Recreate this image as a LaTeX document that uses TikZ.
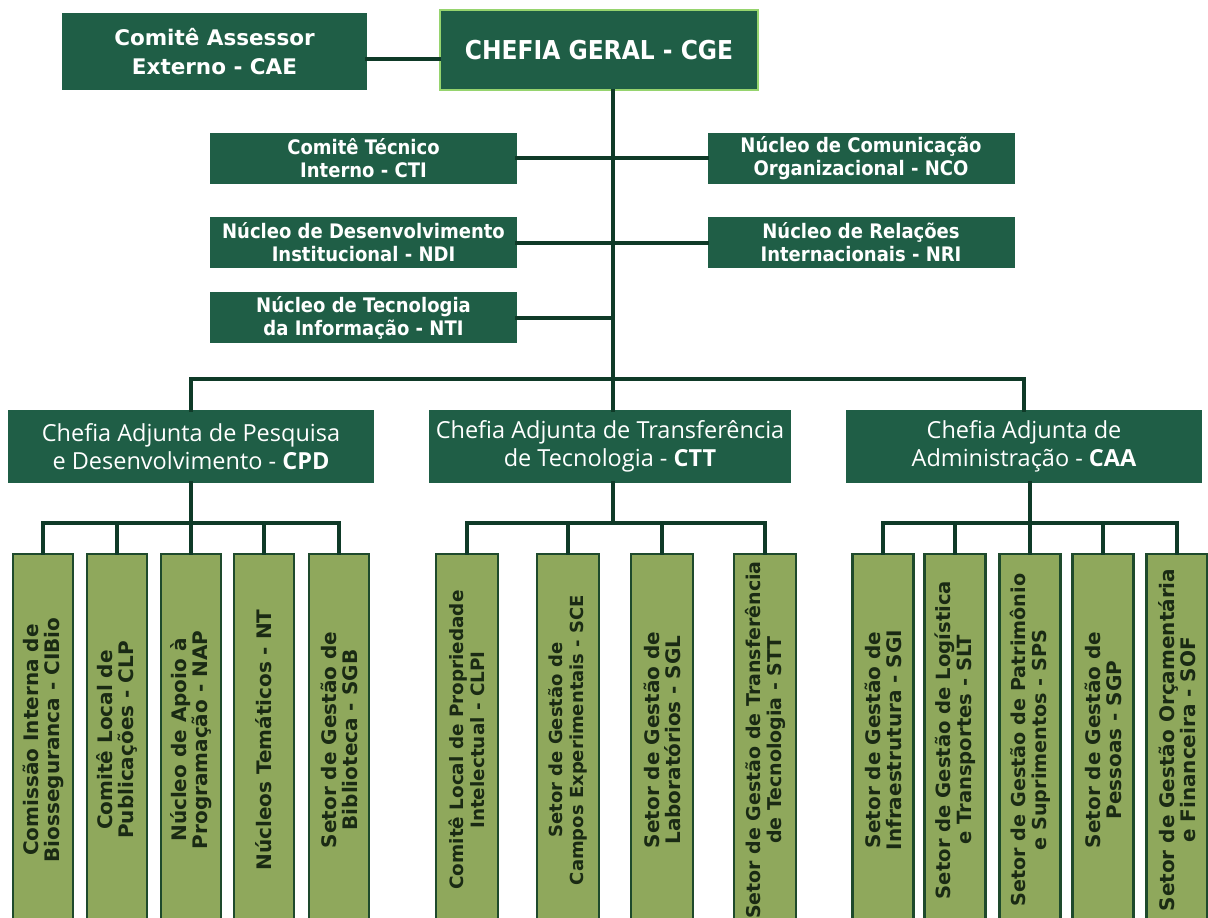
\documentclass[tikz,border=0pt]{standalone}
\usepackage{fontspec}
\setmainfont{DejaVu Sans}
\newfontfamily\topfont[FakeStretch=0.9]{DejaVu Sans}
\newfontfamily\cafont{DejaVu Sans}
\newfontfamily\midfont{Open Sans}
\newfontfamily\botfont{DejaVu Sans}
\definecolor{dg}{HTML}{1F5E46}
\definecolor{ln}{HTML}{0F3A28}
\definecolor{lg}{HTML}{96D46E}
\definecolor{ol}{HTML}{8FA85C}
\definecolor{ob}{HTML}{1E4A2C}
\definecolor{tx}{HTML}{1A2A14}
\tikzset{
  darkbox/.style={fill=dg, text=white, inner sep=0pt, align=center},
  unitbox/.style={darkbox, minimum width=307pt, minimum height=51pt,
    font=\topfont\bfseries\fontsize{20}{23}\selectfont},
  chiefbox/.style={darkbox, minimum width=#1, minimum height=73pt,
    font=\midfont\fontsize{23.5}{28}\selectfont},
  subbox/.style={fill=ol, draw=ob, line width=2.5pt, rotate=90, inner sep=0pt,
    minimum width=372pt, minimum height=#1, align=center, text=tx,
    font=\botfont\bfseries\fontsize{20}{21}\selectfont},
  subsize/.style={font=\botfont\bfseries\fontsize{#1}{21}\selectfont},
  conn/.style={draw=ln, line width=4pt, line cap=rect}
}
\begin{document}
\begin{tikzpicture}[x=1pt,y=-1pt]
\useasboundingbox (0,0) rectangle (1208,918);
\fill[white] (0,0) rectangle (1208,918);

% top level
\node[darkbox, minimum width=305pt, minimum height=77pt,
  font=\cafont\bfseries\fontsize{21.5}{29}\selectfont] (CAE) at (214.5,51.5)
  {Comitê Assessor\\Externo - CAE};
\node[darkbox, draw=lg, line width=2.5pt, minimum width=318pt, minimum height=80pt,
  font=\topfont\bfseries\fontsize{26}{30}\selectfont] (CGE) at (599,50)
  {CHEFIA GERAL - CGE};

% staff units
\node[unitbox] (CTI) at (363.5,158) {Comitê Técnico\\Interno - CTI};
\node[unitbox] (NCO) at (861,158) {Núcleo de Comunicação\\Organizacional - NCO};
\node[unitbox] (NDI) at (363.5,242.5) {Núcleo de Desenvolvimento\\Institucional - NDI};
\node[unitbox] (NRI) at (861,242.5) {Núcleo de Relações\\Internacionais - NRI};
\node[unitbox] (NTI) at (363.5,317.5) {Núcleo de Tecnologia\\da Informação - NTI};

% deputy heads
\node[chiefbox=366pt] (CPD) at (191,446.5)
  {Chefia Adjunta de Pesquisa\\e Desenvolvimento - \textbf{CPD}};
\node[chiefbox=362pt] (CTT) at (610,446.5)
  {Chefia Adjunta de Transferência\\de Tecnologia - \textbf{CTT}};
\node[chiefbox=356pt] (CAA) at (1024,446.5)
  {Chefia Adjunta de\\Administração - \textbf{CAA}};

% CPD children
\node[subbox=60pt] (c1) at (43,740) {Comissão Interna de\\Biosseguranca - CIBio};
\node[subbox=60pt] (c2) at (117,740) {Comitê Local de\\Publicações - CLP};
\node[subbox=60pt] (c3) at (191,740) {Núcleo de Apoio à\\Programação - NAP};
\node[subbox=60pt] (c4) at (264,740) {Núcleos Temáticos - NT};
\node[subbox=60pt] (c5) at (339,740) {Setor de Gestão de\\Biblioteca - SGB};
% CTT children
\node[subbox=62pt, subsize=18.4] (t1) at (467,740) {Comitê Local de Propriedade\\Intelectual - CLPI};
\node[subbox=62pt, subsize=18] (t2) at (568,740) {Setor de Gestão de\\Campos Experimentais - SCE};
\node[subbox=62pt] (t3) at (662,740) {Setor de Gestão de\\Laboratórios - SGL};
\node[subbox=62pt, subsize=19] (t4) at (765,740)
  {Setor de Gestão de Transferência\\de Tecnologia - STT};
% CAA children
\node[subbox=61pt] (a1) at (883,740) {Setor de Gestão de\\Infraestrutura - SGI};
\node[subbox=61pt, subsize=19.6] (a2) at (955,740) {Setor de Gestão de Logística\\e Transportes - SLT};
\node[subbox=61pt, subsize=19.2] (a3) at (1030,740) {Setor de Gestão de Patrimônio\\e Suprimentos - SPS};
\node[subbox=61pt] (a4) at (1103,740) {Setor de Gestão de\\Pessoas - SGP};
\node[subbox=61pt] (a5) at (1177,740) {Setor de Gestão Orçamentária\\e Financeira - SOF};

% coordinates
\coordinate (t0) at (613,379);
\coordinate (b1) at (0,523);

% connectors
\draw[conn] ([yshift=-7pt]CAE.east) -- ([yshift=-7pt]CAE.east -| CGE.west);
\draw[conn] (CGE.south -| t0) -- (t0);
\draw[conn] (CTI.east) -- (NCO.west);
\draw[conn] (NDI.east) -- (NRI.west);
\draw[conn] (NTI.east) -- (NTI.east -| t0);
\draw[conn] (CPD.north) |- (t0) -| (CAA.north);
\draw[conn] (t0) -- (t0 |- CTT.north);

\draw[conn] (CPD.south) -- (CPD.south |- b1);
\draw[conn] (c1.east |- b1) -- (c5.east |- b1);
\foreach \n in {c1,c2,c3,c4,c5} \draw[conn] (\n.east) -- (\n.east |- b1);

\draw[conn] (CTT.south -| t0) -- (t0 |- b1);
\draw[conn] (t1.east |- b1) -- (t4.east |- b1);
\foreach \n in {t1,t2,t3,t4} \draw[conn] (\n.east) -- (\n.east |- b1);

\draw[conn] (CAA.south -| a3.east) -- (a3.east |- b1);
\draw[conn] (a1.east |- b1) -- (a5.east |- b1);
\foreach \n in {a1,a2,a3,a4,a5} \draw[conn] (\n.east) -- (\n.east |- b1);
\end{tikzpicture}
\end{document}
